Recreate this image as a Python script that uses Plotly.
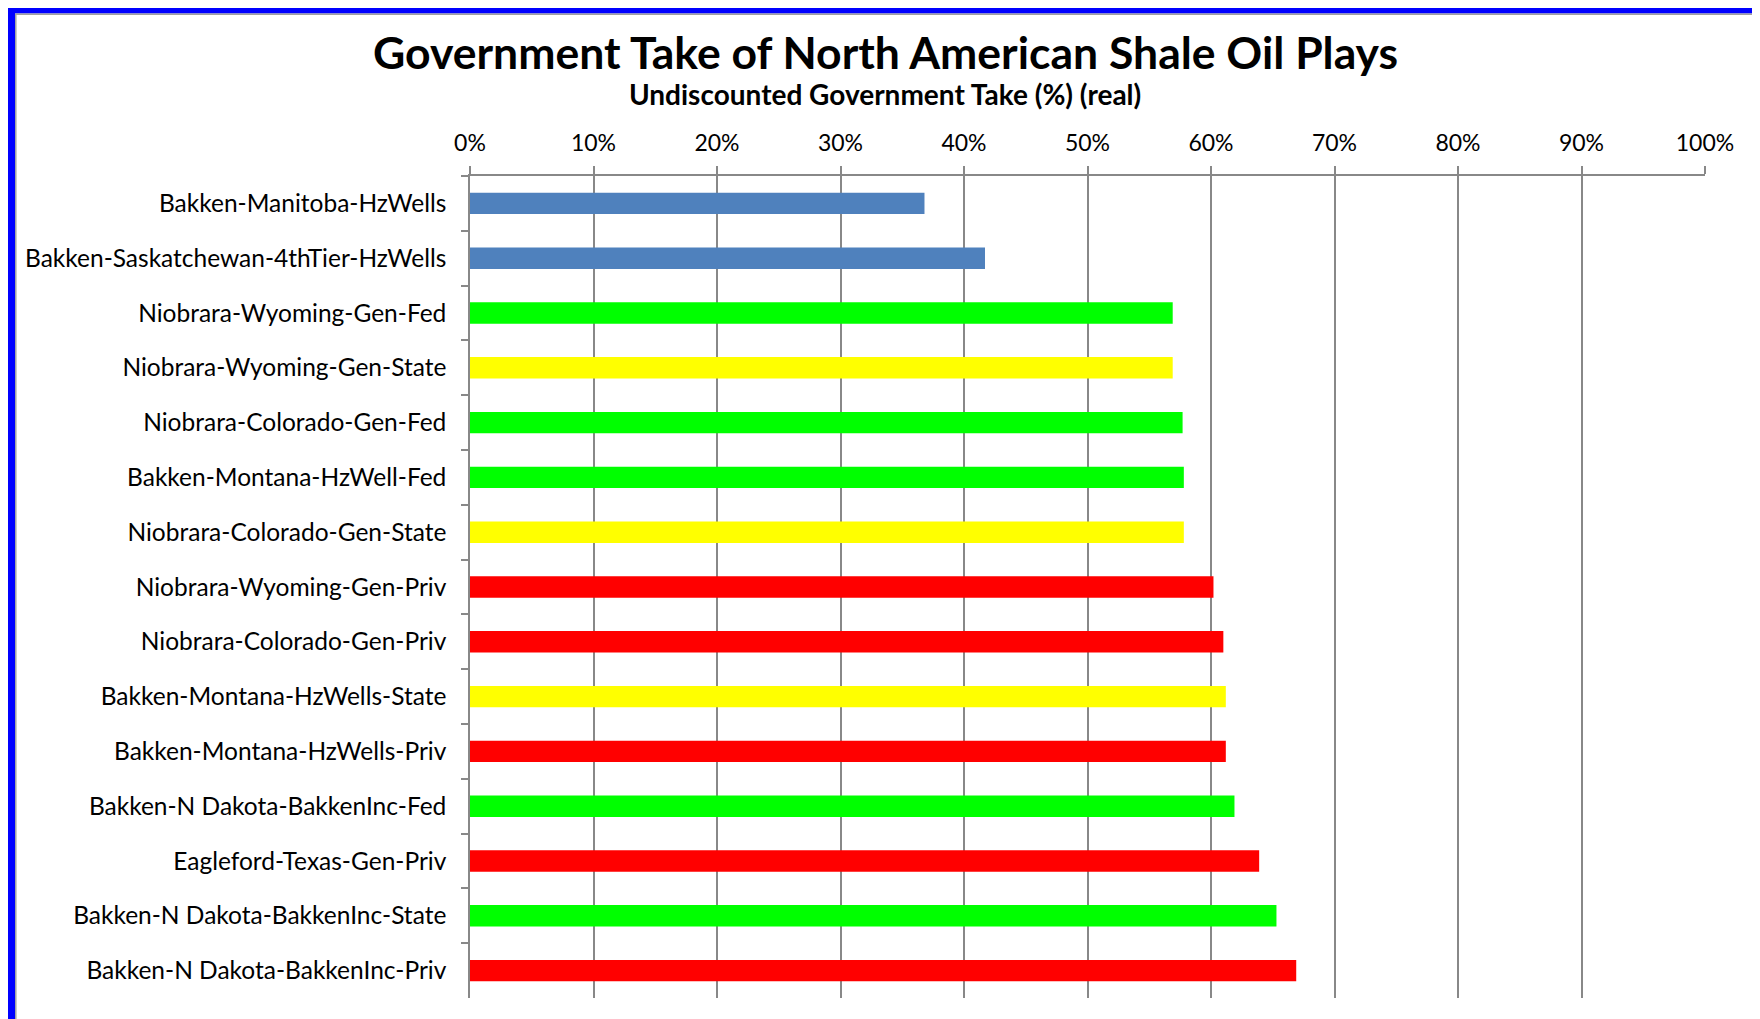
import plotly.graph_objects as go

categories = [
    "Bakken-Manitoba-HzWells",
    "Bakken-Saskatchewan-4thTier-HzWells",
    "Niobrara-Wyoming-Gen-Fed",
    "Niobrara-Wyoming-Gen-State",
    "Niobrara-Colorado-Gen-Fed",
    "Bakken-Montana-HzWell-Fed",
    "Niobrara-Colorado-Gen-State",
    "Niobrara-Wyoming-Gen-Priv",
    "Niobrara-Colorado-Gen-Priv",
    "Bakken-Montana-HzWells-State",
    "Bakken-Montana-HzWells-Priv",
    "Bakken-N Dakota-BakkenInc-Fed",
    "Eagleford-Texas-Gen-Priv",
    "Bakken-N Dakota-BakkenInc-State",
    "Bakken-N Dakota-BakkenInc-Priv",
]
gov_take = [0.368, 0.417, 0.569, 0.569, 0.577, 0.578, 0.578, 0.602,
            0.610, 0.612, 0.612, 0.619, 0.639, 0.653, 0.669]
ownership = ["Canada", "Canada", "Fed", "State", "Fed", "Fed", "State", "Priv",
             "Priv", "State", "Priv", "Fed", "Priv", "Fed", "Priv"]
color_map = {"Canada": "#4F81BD", "Fed": "#00FF00", "State": "#FFFF00", "Priv": "#FF0000"}
x_ticks = [i / 10 for i in range(11)]

# page is offset by the default 8px body margin; compensate
OFF = 8
PAGE_W, PAGE_H = 1760, 1019
W, H = PAGE_W - OFF, PAGE_H - OFF
PL, PR, PT, PB = 470, 1705, 176, 998   # plot-area edges in page pixels
ML, MT = PL - OFF, PT - OFF
MR, MB = PAGE_W - PR, PAGE_H - PB
PW, PH = PR - PL, PB - PT

def px_x(p):
    return (p - PL) / PW

def px_y(p):
    return (PB - p) / PH

FONT = "Lato, Carlito, Calibri, sans-serif"

fig = go.Figure(go.Bar(
    x=gov_take,
    y=categories,
    orientation="h",
    width=0.39,
    marker=dict(color=[color_map[o] for o in ownership], line=dict(width=0)),
    hovertemplate="%{y}: %{x:.1%}<extra></extra>",
))

fig.update_layout(
    width=W, height=H,
    margin=dict(l=ML, r=MR, t=MT, b=MB, pad=0),
    paper_bgcolor="white", plot_bgcolor="white",
    showlegend=False,
    font=dict(family=FONT, color="black"),
    xaxis=dict(
        side="top", range=[0, 1], tickvals=x_ticks, tickformat=".0%",
        showgrid=True, gridcolor="#888888", gridwidth=1.5,
        showline=True, linecolor="#888888", linewidth=1.5,
        ticks="outside", ticklen=8, tickcolor="#888888", tickwidth=1.5,
        tickfont=dict(size=23, family=FONT, color="black"),
        ticklabelstandoff=6, zeroline=False, fixedrange=True,
    ),
    yaxis=dict(
        categoryorder="array", categoryarray=categories, autorange="reversed",
        showline=True, linecolor="#888888", linewidth=1.5,
        ticks="outside", ticklen=7, tickcolor="#888888", tickwidth=1.5,
        tickson="boundaries", showgrid=False,
        tickfont=dict(size=24.5, family=FONT, color="black"),
        ticklabelstandoff=17, fixedrange=True,
    ),
    bargap=0.61,
)

fig.add_annotation(
    text="<b>Government Take of North American Shale Oil Plays</b>",
    xref="paper", yref="paper", x=px_x(885), y=px_y(52),
    xanchor="center", yanchor="middle", showarrow=False,
    font=dict(size=44.5, family=FONT, color="black"),
)
fig.add_annotation(
    text="<b>Undiscounted Government Take (%) (real)</b>",
    xref="paper", yref="paper", x=px_x(885), y=px_y(94),
    xanchor="center", yanchor="middle", showarrow=False,
    font=dict(size=28, family=FONT, color="black"),
)

# blue frame on top and left edges, with a thin grey inner line
fig.add_shape(type="rect", xref="paper", yref="paper",
              x0=px_x(OFF), x1=px_x(PAGE_W), y0=px_y(OFF + 5.5), y1=px_y(OFF),
              fillcolor="#0000FF", line=dict(width=0), layer="above")
fig.add_shape(type="rect", xref="paper", yref="paper",
              x0=px_x(OFF), x1=px_x(OFF + 7), y0=px_y(PAGE_H), y1=px_y(OFF),
              fillcolor="#0000FF", line=dict(width=0), layer="above")
fig.add_shape(type="line", xref="paper", yref="paper",
              x0=px_x(OFF + 7), x1=px_x(PAGE_W), y0=px_y(OFF + 6.3), y1=px_y(OFF + 6.3),
              line=dict(color="#A0A0A0", width=1.5))
fig.add_shape(type="line", xref="paper", yref="paper",
              x0=px_x(OFF + 7.8), x1=px_x(OFF + 7.8), y0=px_y(PAGE_H), y1=px_y(OFF + 6),
              line=dict(color="#A0A0A0", width=1.5))

fig.write_html("out.html")
